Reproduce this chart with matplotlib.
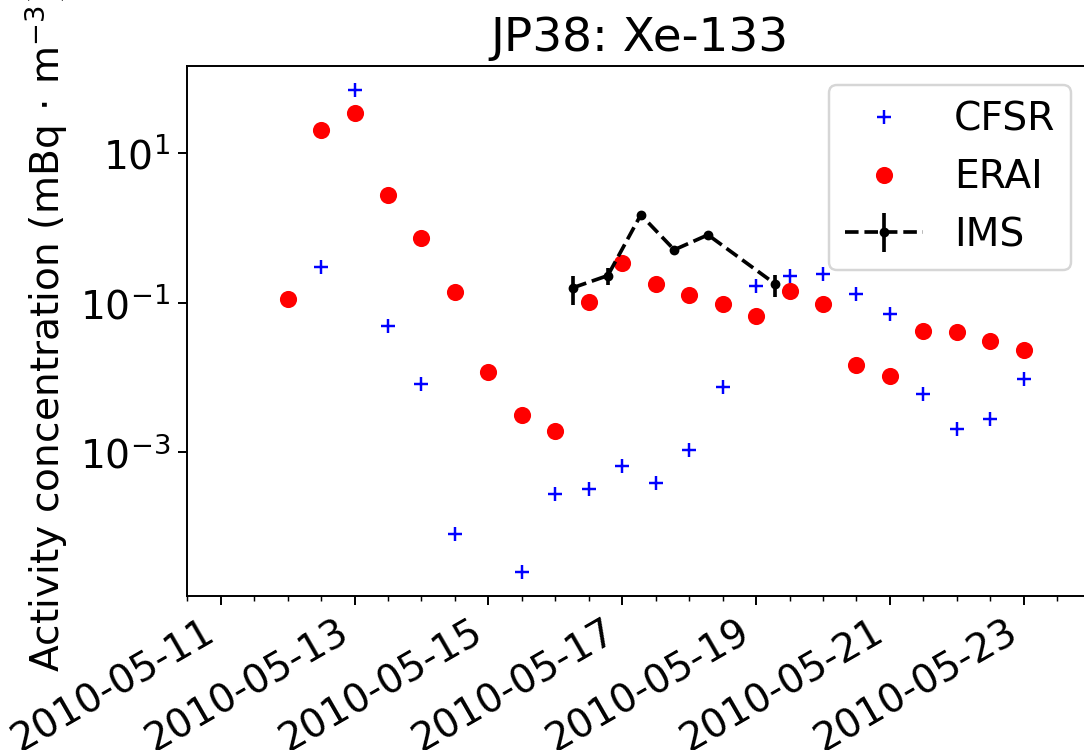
import matplotlib
matplotlib.use("Agg")
import matplotlib.pyplot as plt
import matplotlib.dates as mdates
import matplotlib.ticker as mticker
import numpy as np
import pandas as pd

# ---- data ----
model_times = ["2010-05-12 00:00", "2010-05-12 12:00", "2010-05-13 00:00", "2010-05-13 12:00",
               "2010-05-14 00:00", "2010-05-14 12:00", "2010-05-15 00:00", "2010-05-15 12:00",
               "2010-05-16 00:00", "2010-05-16 12:00", "2010-05-17 00:00", "2010-05-17 12:00",
               "2010-05-18 00:00", "2010-05-18 12:00", "2010-05-19 00:00", "2010-05-19 12:00",
               "2010-05-20 00:00", "2010-05-20 12:00", "2010-05-21 00:00", "2010-05-21 12:00",
               "2010-05-22 00:00", "2010-05-22 12:00", "2010-05-23 00:00"]
cfsr = [np.nan, 0.298, 69.7, 0.049, 0.0081, 8.2e-5, np.nan, 2.5e-5, 2.8e-4, 3.2e-4,
        6.5e-4, 3.9e-4, 1.07e-3, 7.5e-3, 0.169, 0.228, 0.24, 0.131, 0.070, 0.00594,
        0.00208, 0.00277, 0.00953]
erai = [0.112, 20.0, 34.3, 2.71, 0.728, 0.140, 0.0119, 0.0032, 0.00191, 0.101,
        0.336, 0.178, 0.127, 0.096, 0.0664, 0.1436, 0.096, 0.01466, 0.01045, 0.0422,
        0.0402, 0.0307, 0.0233]
ims_times = ["2010-05-16 06:30", "2010-05-16 18:50", "2010-05-17 06:40",
             "2010-05-17 18:40", "2010-05-18 06:45", "2010-05-19 06:50"]
ims = [0.159, 0.23, 1.49, 0.508, 0.805, 0.178]
ims_err = [0.067, 0.06, 0.07, 0.065, 0.07, 0.058]

t_model = pd.to_datetime(model_times)
t_ims = pd.to_datetime(ims_times)

DPI = 176
fig = plt.figure(figsize=(1084 / DPI, 750 / DPI), dpi=DPI)
plt.rcParams['font.size'] = 16
ax = fig.add_axes([187.2 / 1084, (750 - 596) / 750, (1090.7 - 187.2) / 1084, (596 - 65.7) / 750])

ax.plot(t_model, cfsr, 'b+', label='CFSR')
ax.plot(t_model, erai, 'ro', label='ERAI')
ax.errorbar(t_ims, ims, yerr=ims_err, fmt='k.--', label='IMS')

ax.set_yscale('log')
ax.set_ylim(10 ** -4.92, 10 ** 2.166)
ax.yaxis.set_major_locator(mticker.FixedLocator([1e-3, 1e-1, 1e1]))
ax.yaxis.set_major_formatter(mticker.LogFormatterSciNotation())
ax.yaxis.set_minor_locator(mticker.NullLocator())

ax.set_xlim(pd.Timestamp("2010-05-10 12:00"), pd.Timestamp("2010-05-24 00:00"))
ax.xaxis.set_major_locator(mdates.DayLocator(bymonthday=range(1, 32, 2)))
ax.xaxis.set_minor_locator(mdates.HourLocator(byhour=[0, 12]))
ax.xaxis.set_major_formatter(mdates.DateFormatter('%Y-%m-%d'))
for lab in ax.get_xticklabels():
    lab.set_rotation(30)
    lab.set_horizontalalignment('right')

ax.tick_params(labelsize=16)
ax.set_ylabel(r'Activity concentration (mBq$\,\cdot\,$m$^{-3}$)', fontsize=16)
ax.set_title('JP38: Xe-133', fontsize=19.2)
ax.legend(loc='upper right', fontsize=16)

fig.savefig('out.png', dpi=DPI)
